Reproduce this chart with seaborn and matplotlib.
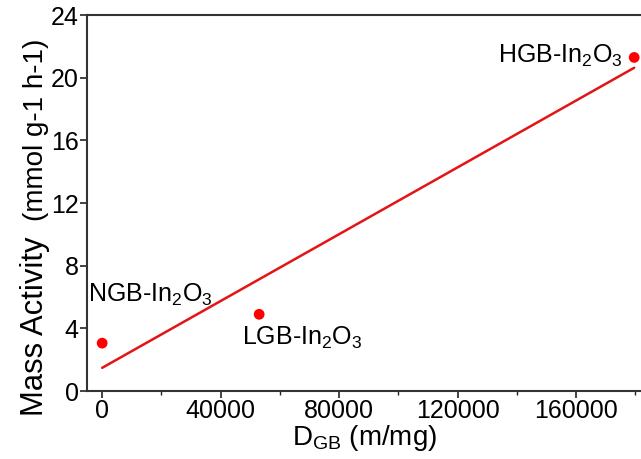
import numpy as np
import pandas as pd
import matplotlib
matplotlib.use("Agg")
import matplotlib.pyplot as plt
import seaborn as sns
from matplotlib.ticker import MultipleLocator

# values
samples = ["NGB-In$_2$O$_3$", "LGB-In$_2$O$_3$", "HGB-In$_2$O$_3$"]
d_gb = [0, 53000, 179600]            # m/mg
mass_activity = [3.06, 4.9, 21.3]    # mmol g-1 h-1

df = pd.DataFrame({"d_gb": d_gb, "activity": mass_activity, "sample": samples})

sns.set_style("ticks")
plt.rcParams["font.family"] = ["Liberation Sans", "DejaVu Sans"]
plt.rcParams["mathtext.default"] = "regular"
plt.rcParams["text.color"] = "black"
plt.rcParams["axes.labelcolor"] = "black"

fig, ax = plt.subplots(figsize=(6.41, 4.59), dpi=100)
fig.subplots_adjust(left=0.136, right=1.0, bottom=0.148, top=0.967)

# linear fit through the three samples
sns.regplot(data=df, x="d_gb", y="activity", ci=None, scatter=False,
            color="#e31414", line_kws={"linewidth": 1.8}, ax=ax)
sns.scatterplot(data=df, x="d_gb", y="activity", color="#ff0000",
                s=60, edgecolor="none", zorder=3, ax=ax)

# label offsets (points) relative to each marker
offsets = [((35, 30), "center"), ((31, -22), "center"), ((-8, -4), "right")]
for (x, y, name), (off, ha) in zip(zip(d_gb, mass_activity, samples), offsets):
    ax.annotate(name, (x, y), xytext=off, textcoords="offset points",
                ha=ha, va="baseline", fontsize=18, color="black")

ax.set_xlim(-5060, 181900)
ax.set_ylim(0, 24)
ax.xaxis.set_major_locator(MultipleLocator(40000))
ax.xaxis.set_minor_locator(MultipleLocator(20000))
ax.yaxis.set_major_locator(MultipleLocator(4))

ax.tick_params(axis="both", which="major", labelsize=18, length=5, width=1.2,
               pad=1, colors="#222222", labelcolor="black")
ax.tick_params(axis="x", which="minor", length=3, width=1.0, colors="#222222")

for side in ["left", "top", "bottom"]:
    ax.spines[side].set_visible(True)
    ax.spines[side].set_linewidth(1.5)
    ax.spines[side].set_color("#333333")
ax.spines["right"].set_visible(False)

ax.set_xlabel("D$_{GB}$ (m/mg)", fontsize=20, labelpad=0)
ax.set_ylabel("")
# y label in two sizes, as in the original figure
ax.text(-0.079, 0.172, "Mass Activity", transform=ax.transAxes, rotation=90,
        rotation_mode="anchor", ha="center", va="baseline", fontsize=22.3)
ax.text(-0.079, 0.695, "(mmol g-1 h-1)", transform=ax.transAxes, rotation=90,
        rotation_mode="anchor", ha="center", va="baseline", fontsize=20)

fig.savefig("out.png", dpi=100)
